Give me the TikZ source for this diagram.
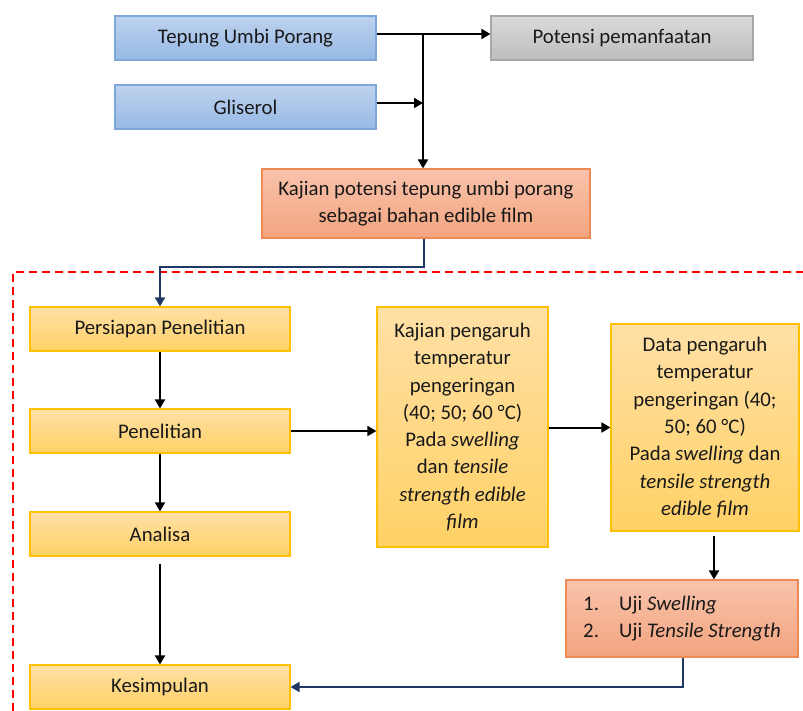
\documentclass[tikz,border=0pt]{standalone}
\usepackage{fontspec}
\setmainfont{Carlito}
\usetikzlibrary{arrows.meta}
\definecolor{blueTop}{HTML}{BDD2EE}
\definecolor{blueBot}{HTML}{97B9E4}
\definecolor{blueEdge}{HTML}{7FA7DA}
\definecolor{greyTop}{HTML}{DADADA}
\definecolor{greyBot}{HTML}{BDBDBD}
\definecolor{greyEdge}{HTML}{A8A8A8}
\definecolor{orngTop}{HTML}{F8C3AB}
\definecolor{orngBot}{HTML}{F3A47F}
\definecolor{orngEdge}{HTML}{EF8A55}
\definecolor{yelTop}{HTML}{FFE0A6}
\definecolor{yelBot}{HTML}{FFD165}
\definecolor{yelEdge}{HTML}{FFC000}
\definecolor{navy}{HTML}{203864}
\tikzset{
  box/.style={draw, line width=1.2pt, inner sep=2pt, align=center, text=black!90,
    font=\fontsize{20.8}{27.3}\selectfont},
  bluebox/.style={box, draw=blueEdge, top color=blueTop, bottom color=blueBot,
    minimum width=261pt, minimum height=44pt},
  greybox/.style={box, draw=greyEdge, top color=greyTop, bottom color=greyBot,
    minimum width=262pt, minimum height=44pt},
  orngbox/.style={box, draw=orngEdge, top color=orngTop, bottom color=orngBot},
  yelbox/.style={box, draw=yelEdge, top color=yelTop, bottom color=yelBot},
  stepline/.style={->, line width=2pt, black},
  navyline/.style={->, line width=2pt, navy},
  frameline/.style={red, line width=2pt, dash pattern=on 8pt off 5pt},
  >={Triangle[length=9pt,width=10pt]}
}

\begin{document}
\begin{tikzpicture}[x=1pt, y=-1pt]
  \useasboundingbox (0,0) rectangle (803,711);
  % top part
  \node[bluebox] (tepung) at (245.5,38) {Tepung Umbi Porang};
  \node[bluebox] (gliserol) at (245.5,107) {Gliserol};
  \node[greybox] (potensi) at (622,38) {Potensi pemanfaatan};
  \node[orngbox, minimum width=328pt, minimum height=69pt] (kajian) at (426,203.5)
    {Kajian potensi tepung umbi porang\\sebagai bahan edible film};
  \coordinate (jn) at (423,34);
  % research frame
  \draw[frameline] (13,711) -- (13,272) -- (803,272);
  \node[yelbox, minimum width=260pt, minimum height=44pt] (persiapan) at (160,329) {Persiapan Penelitian};
  \node[yelbox, minimum width=260pt, minimum height=44pt] (penelitian) at (160,431) {Penelitian};
  \node[yelbox, minimum width=260pt, minimum height=44pt] (analisa) at (160,534) {Analisa};
  \node[yelbox, minimum width=260pt, minimum height=44pt] (kesimpulan) at (160,687) {Kesimpulan};
  \node[yelbox, minimum width=171pt, minimum height=240pt] (pengaruh) at (462.5,427)
    {Kajian pengaruh\\temperatur\\pengeringan\\(40; 50; 60 °C)\\Pada \textit{swelling}\\dan \textit{tensile}\\\textit{strength edible}\\\textit{film}};
  \node[yelbox, minimum width=188pt, minimum height=207pt] (data) at (705,427.5)
    {Data pengaruh\\temperatur\\pengeringan (40;\\50; 60 °C)\\Pada \textit{swelling} dan\\\textit{tensile strength}\\\textit{edible film}};
  \node[orngbox, align=left, minimum width=232pt, minimum height=77pt] (uji) at (682,618.5)
    {\makebox[36pt][l]{1.}Uji \textit{Swelling}\\\makebox[36pt][l]{2.}Uji \textit{Tensile Strength}};
  % connectors
  \draw[stepline] ([yshift=4pt]tepung.east) -- ([yshift=4pt]potensi.west);
  \draw[stepline] ([yshift=4pt]gliserol.east) -- ([yshift=4pt]jn |- gliserol.east);
  \draw[stepline] (jn) -- (jn |- kajian.north);
  \draw[navyline] ([xshift=-2pt]kajian.south) -- ++(0,28) -| (persiapan.north);
  \draw[stepline] (persiapan) -- (penelitian);
  \draw[stepline] (penelitian) -- (analisa);
  \draw[stepline, shorten <=7pt] (analisa) -- (kesimpulan);
  \draw[stepline] (penelitian.east) -- (penelitian.east -| pengaruh.west);
  \draw[stepline] (pengaruh.east |- data.west) -- (data.west);
  \draw[stepline] ([xshift=9pt,yshift=-4pt]data.south) -- ([xshift=9pt]data.south |- uji.north);
  \draw[navyline] ([xshift=1pt]uji.south) |- (kesimpulan.east);
\end{tikzpicture}
\end{document}
